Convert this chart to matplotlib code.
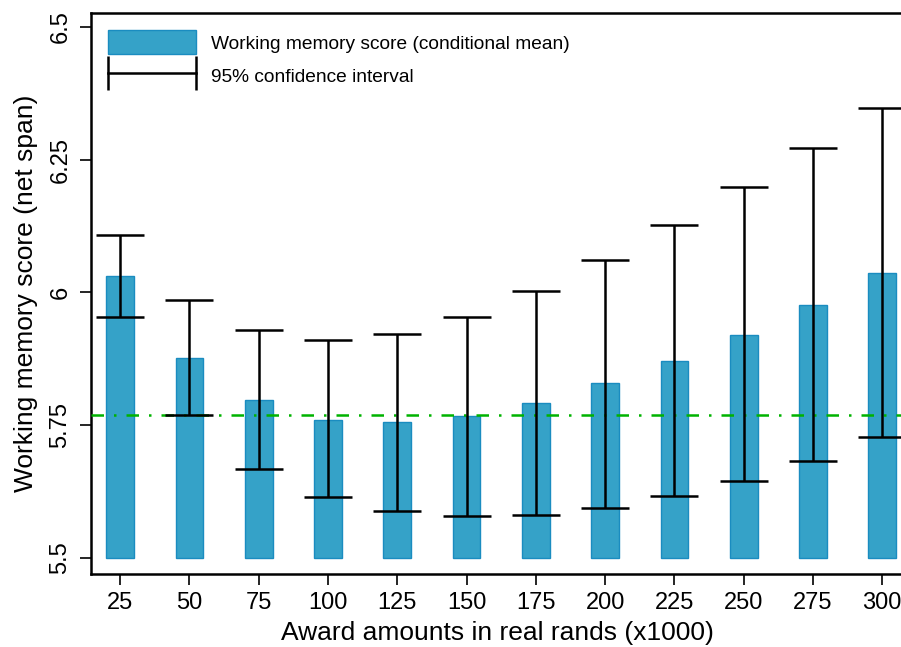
import matplotlib.pyplot as plt
from matplotlib.patches import Patch
from matplotlib.lines import Line2D
from matplotlib.legend_handler import HandlerLine2D

plt.rcParams['font.family'] = ['Liberation Sans', 'DejaVu Sans']

awards = [25, 50, 75, 100, 125, 150, 175, 200, 225, 250, 275, 300]
cond_mean = [6.030, 5.876, 5.797, 5.760, 5.756, 5.767, 5.792, 5.830,
             5.871, 5.920, 5.976, 6.037]
ci_low = [5.953, 5.769, 5.668, 5.615, 5.589, 5.579, 5.581, 5.594,
          5.617, 5.645, 5.683, 5.727]
ci_high = [6.108, 5.985, 5.929, 5.910, 5.922, 5.954, 6.003, 6.061,
           6.127, 6.199, 6.272, 6.348]
mean_line = 5.769
base = 5.5

fig = plt.figure(figsize=(9.01, 6.47), dpi=100)
ax = fig.add_axes([91 / 901, 1 - 574 / 647, 812 / 901, 561 / 647])

heights = [m - base for m in cond_mean]
ax.bar(awards, heights, bottom=base, width=10, color='#35a2c8',
       edgecolor='#1a8cc0', linewidth=1, zorder=2)

ax.axhline(mean_line, color='#00b300', lw=1.8, dashes=(5, 4, 1, 4), zorder=3)

yerr = [[m - lo for m, lo in zip(cond_mean, ci_low)],
        [hi - m for m, hi in zip(cond_mean, ci_high)]]
ax.errorbar(awards, cond_mean, yerr=yerr, fmt='none', ecolor='black',
            elinewidth=1.8, capsize=17.5, capthick=1.8, zorder=4)

ax.set_xlim(14.5, 307.5)
ax.set_ylim(5.47, 6.526)
ax.set_xticks(awards)
ax.set_yticks([5.5, 5.75, 6, 6.25, 6.5])
ax.set_yticklabels(['5.5', '5.75', '6', '6.25', '6.5'], rotation=90,
                   va='center')
ax.tick_params(labelsize=17, length=8, width=1.2, direction='out')
ax.tick_params(axis='x', pad=5)
ax.tick_params(axis='y', pad=6)
for s in ['left', 'bottom', 'top', 'right']:
    ax.spines[s].set_linewidth(1.8)

ax.set_xlabel('Award amounts in real rands (x1000)', fontsize=19,
              labelpad=5)
ax.set_ylabel('Working memory score (net span)', fontsize=19, labelpad=8)

ci_handle = Line2D([0], [0], color='black', lw=1.8, marker='|',
                   markersize=24, markeredgewidth=1.8)
handles = [Patch(facecolor='#35a2c8', edgecolor='#1a8cc0'), ci_handle]
ax.legend(handles, ['Working memory score (conditional mean)',
                    '95% confidence interval'],
          handler_map={ci_handle: HandlerLine2D(marker_pad=0, numpoints=2)},
          loc='upper left', frameon=False, fontsize=13.8, numpoints=2,
          handlelength=4.6, handleheight=1.55, handletextpad=0.75,
          labelspacing=0.5, bbox_to_anchor=(0.0, 1.0),
          borderaxespad=0.5)

fig.savefig('out.png', dpi=100)
